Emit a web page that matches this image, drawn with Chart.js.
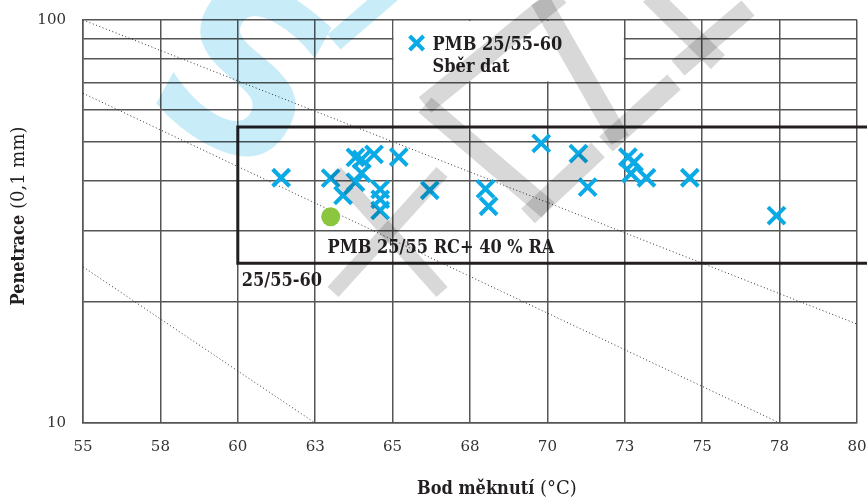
<!DOCTYPE html>
<html>
<head>
<meta charset="utf-8">
<script src="https://cdn.jsdelivr.net/npm/chart.js@4.4.1/dist/chart.umd.min.js"></script>
<style>
  html, body { margin: 0; padding: 0; background: #fff; }
  canvas { display: block; }
</style>
</head>
<body>
<canvas id="myChart" width="867" height="497"></canvas>
<script>
// PMB 25/55-60 data collection: softening point vs penetration
const softening = [61.4, 63.0, 63.4, 63.8, 64.0, 63.8, 64.0, 64.4, 65.2, 64.6, 64.6, 64.6,
                   66.2, 68.0, 68.1, 69.8, 71.0, 71.3, 72.6, 72.8, 72.7, 73.2, 74.6, 77.4];
const penetration = [40.6, 40.5, 36.7, 39.6, 41.7, 45.6, 45.1, 46.4, 45.7, 38.0, 35.9, 33.7,
                     37.8, 38.1, 34.5, 49.4, 46.6, 38.5, 45.7, 44.4, 41.6, 40.6, 40.6, 32.7];

// PMB 25/55 RC + 40 % RA
const rcSoftening = [63.0];
const rcPenetration = [32.5];

// requirement box for 25/55-60
const boxX = [80.4, 60, 60, 80.4];
const boxY = [54.3, 54.3, 24.9, 24.9];

// dotted reference lines
const line1X = [55, 80];
const line1Y = [100, 17.6];
const line2X = [55, 77.5];
const line2Y = [65.8, 10];
const line3X = [55, 62.5];
const line3Y = [24.4, 10];

const xTicks = [55, 57.5, 60, 62.5, 65, 67.5, 70, 72.5, 75, 77.5, 80];
const xTickLabels = ['55', '58', '60', '63', '65', '68', '70', '73', '75', '78', '80'];
const yTicks = [10, 20, 30, 40, 50, 60, 70, 80, 90, 100];
const yTickLabels = { 10: '10', 100: '100' };

const legendLines = ['PMB 25/55-60', 'Sběr dat'];
const boxLabel = 'PMB 25/55 RC+ 40 % RA';
const specLabel = '25/55-60';

const BLUE = '#0aaae6';
const GREEN = '#8cc63f';
const BOLD = "bold 18px 'DejaVu Serif Condensed', 'DejaVu Serif', serif";
const NORMAL = "18px 'DejaVu Serif', serif";

function pairs(xs, ys) {
    return xs.map((x, i) => ({ x: x, y: ys[i] }));
}

const decor = {
    id: 'decor',
    beforeDatasetsDraw(chart) {
        const ctx = chart.ctx;
        const xs = chart.scales.x, ys = chart.scales.y;
        // white legend area
        const l = xs.getPixelForValue(65) + 1, r = xs.getPixelForValue(72.5) - 1;
        const t = ys.getPixelForValue(100) + 1, b = ys.getPixelForValue(70) - 1;
        ctx.save();
        ctx.fillStyle = '#fff';
        ctx.fillRect(l, t, r - l, b - t);
        ctx.restore();
    },
    afterDraw(chart) {
        const ctx = chart.ctx;
        const xs = chart.scales.x, ys = chart.scales.y;
        ctx.save();
        ctx.fillStyle = '#231f20';
        ctx.textBaseline = 'alphabetic';

        // legend
        const lx = xs.getPixelForValue(65) + 24;
        const ly = ys.getPixelForValue(100) + 23;
        ctx.strokeStyle = BLUE;
        ctx.lineWidth = 4;
        ctx.beginPath();
        ctx.moveTo(lx - 7, ly - 7); ctx.lineTo(lx + 7, ly + 7);
        ctx.moveTo(lx + 7, ly - 7); ctx.lineTo(lx - 7, ly + 7);
        ctx.stroke();
        ctx.font = BOLD;
        ctx.fillText(legendLines[0], lx + 16, ly + 7);
        ctx.fillText(legendLines[1], lx + 16, ly + 29);

        // box labels
        ctx.fillText(boxLabel, xs.getPixelForValue(62.9), ys.getPixelForValue(24.9) - 10);
        ctx.fillText(specLabel, xs.getPixelForValue(60) + 4, ys.getPixelForValue(24.9) + 23);

        // x title: bold + normal
        const xa = 'Bod měknutí', xb = ' (°C)';
        ctx.font = BOLD;
        const wa = ctx.measureText(xa).width;
        const x0 = 417;
        ctx.fillText(xa, x0, 494);
        ctx.font = NORMAL;
        ctx.fillText(xb, x0 + wa, 494);

        // y title rotated
        const ya = 'Penetrace', yb = ' (0,1 mm)';
        ctx.font = BOLD;
        const ha = ctx.measureText(ya).width;
        ctx.font = NORMAL;
        const hb = ctx.measureText(yb).width;
        ctx.translate(24, 216);
        ctx.rotate(-Math.PI / 2);
        ctx.font = BOLD;
        ctx.fillText(ya, -(ha + hb) / 2, 0);
        ctx.font = NORMAL;
        ctx.fillText(yb, -(ha + hb) / 2 + ha, 0);
        ctx.restore();

        // watermark
        ctx.save();
        ctx.globalCompositeOperation = 'multiply';
        ctx.save();
        ctx.translate(236, 90);
        ctx.rotate(0.5);
        ctx.fillStyle = '#c9ecf9';
        ctx.font = "bold 225px 'DejaVu Sans', sans-serif";
        ctx.textAlign = 'center';
        ctx.textBaseline = 'middle';
        ctx.fillText('S', 0, 0);
        ctx.restore();
        ctx.lineCap = 'butt';
        ctx.strokeStyle = '#c9ecf9';
        ctx.lineWidth = 20;
        ctx.beginPath();
        ctx.moveTo(334, 42); ctx.lineTo(392, -8);
        ctx.stroke();
        ctx.strokeStyle = '#d8d8d8';
        ctx.lineWidth = 20;
        const strokes = [
            [425, 105, 560, -5], [425, 105, 548, 210], [528, 216, 598, 150],
            [540, 0, 620, 140], [606, 144, 674, 82], [650, -5, 718, 62],
            [678, 68, 748, 8]
        ];
        strokes.forEach(s => {
            ctx.beginPath();
            ctx.moveTo(s[0], s[1]); ctx.lineTo(s[2], s[3]);
            ctx.stroke();
        });
        ctx.lineWidth = 15;
        [[335, 172, 442, 292], [333, 292, 442, 172]].forEach(s => {
            ctx.beginPath();
            ctx.moveTo(s[0], s[1]); ctx.lineTo(s[2], s[3]);
            ctx.stroke();
        });
        ctx.restore();
    }
};

const ctx = document.getElementById('myChart');

new Chart(ctx, {
    data: {
        datasets: [
            {
                type: 'scatter',
                label: 'PMB 25/55-60',
                data: pairs(softening, penetration),
                pointStyle: 'crossRot',
                pointRadius: 12,
                pointBorderWidth: 4,
                borderColor: BLUE,
                backgroundColor: BLUE,
            },
            {
                type: 'scatter',
                label: 'PMB 25/55 RC+ 40 % RA',
                data: pairs(rcSoftening, rcPenetration),
                pointStyle: 'circle',
                pointRadius: 9.5,
                pointBorderWidth: 0,
                backgroundColor: GREEN,
                borderColor: GREEN,
            },
            {
                type: 'line',
                data: pairs(boxX, boxY),
                borderColor: '#231f20',
                borderWidth: 3,
                pointRadius: 0,
                fill: false,
                clip: false,
            },
            ...[[line1X, line1Y], [line2X, line2Y], [line3X, line3Y]].map(l => ({
                type: 'line',
                data: pairs(l[0], l[1]),
                borderColor: '#333',
                borderWidth: 1,
                borderDash: [1, 2.5],
                pointRadius: 0,
                fill: false,
            })),
        ],
    },
    options: {
        responsive: false,
        animation: false,
        devicePixelRatio: 1,
        layout: { autoPadding: false, padding: { top: 20, right: 10, left: 0, bottom: 0 } },
        plugins: {
            legend: { display: false },
            tooltip: { enabled: false },
        },
        events: [],
        scales: {
            x: {
                type: 'linear',
                min: 55,
                max: 80,
                afterBuildTicks: scale => { scale.ticks = xTicks.map(v => ({ value: v })); },
                afterFit: scale => {
                    scale.height = 74;
                    scale.paddingLeft = 0;
                    scale.paddingRight = 0;
                },
                ticks: {
                    callback: (value, index) => xTickLabels[index],
                    font: { family: "'DejaVu Serif', serif", size: 15 },
                    color: '#333',
                    padding: 15,
                    maxRotation: 0,
                },
                grid: { color: '#555', lineWidth: 1.5, drawTicks: false },
                border: { color: '#555', width: 1.5 },
            },
            y: {
                type: 'logarithmic',
                min: 10,
                max: 100,
                afterBuildTicks: scale => { scale.ticks = yTicks.map(v => ({ value: v })); },
                afterFit: scale => {
                    scale.width = 83;
                    scale.paddingTop = 0;
                    scale.paddingBottom = 0;
                },
                ticks: {
                    callback: value => yTickLabels[value] || '',
                    font: { family: "'DejaVu Serif', serif", size: 15 },
                    color: '#333',
                    padding: 17,
                    autoSkip: false,
                },
                grid: { color: '#555', lineWidth: 1.5, drawTicks: false },
                border: { color: '#555', width: 1.5 },
            },
        },
    },
    plugins: [decor],
});
</script>
</body>
</html>
